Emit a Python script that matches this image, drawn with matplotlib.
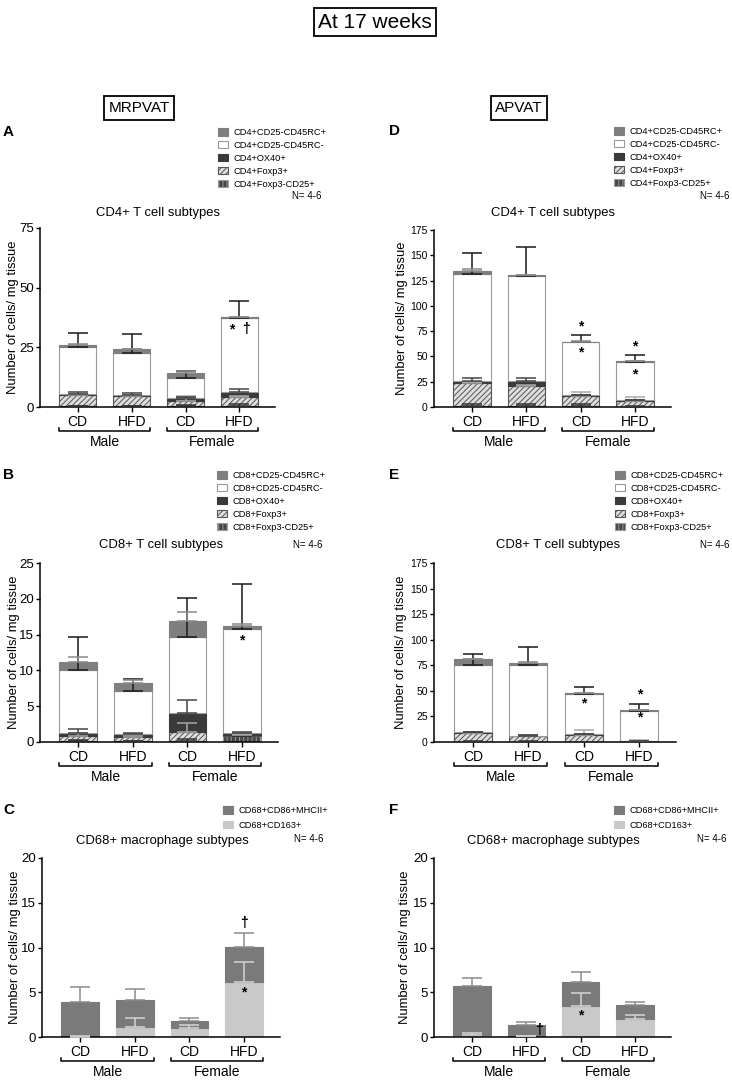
import matplotlib
matplotlib.use("Agg")
import matplotlib.pyplot as plt
from matplotlib.transforms import blended_transform_factory

plt.rcParams["font.family"] = ["Liberation Sans", "DejaVu Sans"]
plt.rcParams["hatch.linewidth"] = 0.7

# === DATA ===
GROUPS = ["CD", "HFD", "CD", "HFD"]
SEXES = ["Male", "Female"]

# T cell subsets, stacked bottom -> top
CD4_SUBSETS = ["CD4+Foxp3-CD25+", "CD4+Foxp3+", "CD4+OX40+", "CD4+CD25-CD45RC-", "CD4+CD25-CD45RC+"]
CD8_SUBSETS = ["CD8+Foxp3-CD25+", "CD8+Foxp3+", "CD8+OX40+", "CD8+CD25-CD45RC-", "CD8+CD25-CD45RC+"]
MAC_SUBSETS = ["CD68+CD163+", "CD68+CD86+MHCII+"]

# rows follow the subset order, columns follow GROUPS
MR_CD4_MEAN = [[0.3, 0.3, 0.3, 0.6],
               [4.7, 4.3, 2.2, 3.5],
               [0.5, 0.6, 1.1, 2.3],
               [19.8, 17.6, 8.7, 30.7],
               [0.7, 1.4, 1.8, 0.5]]
MR_CD4_SEM = [[0.2, 0.2, 0.4, 0.7],
              [0.5, 0.4, 2.2, 0.5],
              [0.6, 0.5, 0.5, 1.0],
              [5.8, 7.7, 2.9, 7.4],
              [0.3, 0.3, 0.8, 0.3]]

AP_CD4_MEAN = [[0.5, 0.5, 0.5, 0.3],
               [23.5, 20.5, 10.5, 5.9],
               [2.0, 5.0, 0.5, 0.5],
               [105.2, 103.5, 52.5, 38.1],
               [3.3, 1.0, 0.5, 0.5]]
AP_CD4_SEM = [[2.5, 2.5, 2.5, 0.3],
              [1.0, 1.0, 3.5, 3.4],
              [2.5, 3.0, 0.5, 0.3],
              [20.8, 28.5, 7.0, 6.6],
              [1.5, 0.5, 0.5, 0.3]]

MR_CD8_MEAN = [[0.2, 0.1, 0.2, 0.8],
               [0.64, 0.65, 1.2, 0.2],
               [0.46, 0.32, 2.6, 0.2],
               [8.7, 6.03, 10.6, 14.6],
               [1.2, 1.15, 2.3, 0.4]]
MR_CD8_SEM = [[0.1, 0.05, 0.17, 0.1],
              [0.4, 0.2, 1.2, 0.1],
              [0.5, 0.15, 1.8, 0.15],
              [4.6, 1.7, 5.5, 6.3],
              [0.7, 0.35, 1.3, 0.3]]

AP_CD8_MEAN = [[0.3, 0.3, 0.2, 0.1],
               [8.8, 5.6, 7.0, 0.5],
               [0.4, 0.3, 0.2, 0.1],
               [65.6, 68.9, 39.9, 29.7],
               [5.9, 2.6, 0.7, 0.6]]
AP_CD8_SEM = [[0.2, 0.2, 0.2, 0.1],
              [0.5, 0.7, 4.6, 1.0],
              [0.3, 0.4, 0.2, 0.1],
              [10.8, 17.9, 6.6, 7.1],
              [0.6, 0.4, 0.3, 0.3]]

MR_MAC_MEAN = [[0.05, 1.12, 1.0, 6.1],
               [3.85, 3.05, 0.75, 3.96]]
MR_MAC_SEM = [[0.05, 1.0, 0.38, 2.3],
              [1.65, 1.2, 0.35, 1.55]]

AP_MAC_MEAN = [[0.26, 0.1, 3.5, 2.0],
               [5.4, 1.28, 2.65, 1.61]]
AP_MAC_SEM = [[0.2, 0.05, 1.4, 0.5],
              [0.95, 0.3, 1.1, 0.3]]

# significance marks: (group index, x shift, y value, symbol)
MR_CD4_MARKS = [(3, -0.14, 32.5, "*"), (3, 0.12, 32.5, "\u2020")]
AP_CD4_MARKS = [(2, 0, 80, "*"), (2, 0, 54, "*"), (3, 0, 60, "*"), (3, 0, 32, "*")]
MR_CD8_MARKS = [(3, 0, 14.2, "*")]
AP_CD8_MARKS = [(2, 0, 38, "*"), (3, 0, 46, "*"), (3, 0, 23.5, "*")]
MR_MAC_MARKS = [(3, 0, 12.7, "\u2020"), (3, 0, 5.0, "*")]
AP_MAC_MARKS = [(1, 0.23, 0.8, "\u2020"), (2, 0, 2.4, "*")]

# === STYLE ===
W, H = 732, 1082
BAR_W = 0.686
T_STYLES = [
    dict(color="#464646", edgecolor="#9a9a9a", hatch="||||", err="#333333"),
    dict(color="#dedede", edgecolor="#555555", hatch="//////", err="#a8a8a8"),
    dict(color="#3a3a3a", edgecolor="#3a3a3a", hatch=None, err="#444444"),
    dict(color="white", edgecolor="#9a9a9a", hatch=None, err="#1a1a1a"),
    dict(color="#7f7f7f", edgecolor="#7f7f7f", hatch=None, err="#8a8a8a"),
]
MAC_STYLES = [
    dict(color="#c9c9c9", edgecolor="#c9c9c9", hatch=None, err="#d6d6d6"),
    dict(color="#7a7a7a", edgecolor="#7a7a7a", hatch=None, err="#8c8c8c"),
]

fig = plt.figure(figsize=(W / 100, H / 100), dpi=100)


def ftext(x, y, s, **kw):
    return fig.text(x / W, 1 - y / H, s, **kw)


def px_axes(left, top, right, bottom):
    return fig.add_axes([left / W, 1 - bottom / H, (right - left) / W, (bottom - top) / H])


def draw_panel(box, means, sems, subsets, styles, ymax, ystep, tick_fs, marks,
               title, title_x, title_y, letter, letter_x, leg_x, leg_y, n_x, n_y, ylab_x):
    left, top, right, bottom = box
    ax = px_axes(left, top, right, bottom)
    x = list(range(len(GROUPS)))
    base = [0.0] * len(GROUPS)
    containers = []
    for vals, errs, st in zip(means, sems, styles):
        bc = ax.bar(x, vals, BAR_W, bottom=base, color=st["color"], edgecolor=st["edgecolor"],
                    hatch=st["hatch"], linewidth=0.8, zorder=2)
        containers.append(bc)
        base = [b + v for b, v in zip(base, vals)]
        ax.errorbar(x, base, yerr=[[0] * len(errs), errs], fmt="none", ecolor=st["err"],
                    elinewidth=1.1, capsize=7, capthick=1.1, zorder=3)
    for gi, dx, yv, sym in marks:
        ax.text(gi + dx, yv, sym, ha="center", va="center", fontsize=10, fontweight="bold", zorder=4)

    ax.set_xlim(-0.7, 3.66)
    ax.set_ylim(0, ymax)
    ax.set_yticks(range(0, ymax + 1, ystep))
    ax.set_xticks(x)
    ax.set_xticklabels(GROUPS, fontsize=10)
    ax.tick_params(axis="y", labelsize=tick_fs, length=3, width=1, pad=1.5)
    ax.tick_params(axis="x", length=3.5, width=1, pad=2)
    for s in ["top", "right"]:
        ax.spines[s].set_visible(False)
    for s in ["left", "bottom"]:
        ax.spines[s].set_linewidth(1.1)
    ax.set_ylabel("Number of cells/ mg tissue", fontsize=9.4)
    ax.yaxis.set_label_coords((ylab_x - left) / (right - left), 0.5)

    # Male / Female brackets under the group labels
    hpx = bottom - top
    trans = blended_transform_factory(ax.transData, ax.transAxes)
    for i, sex in enumerate(SEXES):
        x0 = 2 * i - BAR_W / 2
        x1 = 2 * i + 1 + BAR_W / 2
        yb = -24 / hpx
        yt = -21 / hpx
        ax.plot([x0, x0, x1, x1], [yt, yb, yb, yt], color="black", lw=1.1,
                transform=trans, clip_on=False)
        ax.text((x0 + x1) / 2, -35 / hpx, sex, transform=trans, ha="center", va="center",
                fontsize=10)

    spacing = 0.42 if len(subsets) == 5 else 0.6
    ax.legend(containers[::-1], subsets[::-1], loc="upper left",
              bbox_to_anchor=(leg_x / W, 1 - leg_y / H), bbox_transform=fig.transFigure,
              frameon=False, fontsize=6.7, handlelength=1.07, handleheight=0.87,
              handletextpad=0.55, labelspacing=spacing, borderpad=0, borderaxespad=0)

    ftext(title_x, title_y, title, ha="center", va="center", fontsize=9.4)
    ftext(n_x, n_y, "N= 4-6", ha="left", va="center", fontsize=7)
    ftext(letter_x, leg_y + 4, letter, ha="left", va="center", fontsize=11, fontweight="bold")
    return ax


# === HEADERS ===
ftext(375, 22, "At 17 weeks", ha="center", va="center", fontsize=15,
      bbox=dict(boxstyle="square,pad=0.22", fc="white", ec="black", lw=1.3))
ftext(139, 108, "MRPVAT", ha="center", va="center", fontsize=11,
      bbox=dict(boxstyle="square,pad=0.3", fc="white", ec="black", lw=1.3))
ftext(519, 108, "APVAT", ha="center", va="center", fontsize=11,
      bbox=dict(boxstyle="square,pad=0.3", fc="white", ec="black", lw=1.3))

# === PANELS ===
draw_panel((40, 228, 275, 407), MR_CD4_MEAN, MR_CD4_SEM, CD4_SUBSETS, T_STYLES, 75, 25, 9.5,
           MR_CD4_MARKS, "CD4+ T cell subtypes", 158, 213, "A", 3, 218, 128, 292, 196, 19)
draw_panel((434, 230, 671, 407), AP_CD4_MEAN, AP_CD4_SEM, CD4_SUBSETS, T_STYLES, 175, 25, 7.5,
           AP_CD4_MARKS, "CD4+ T cell subtypes", 553, 213, "D", 389, 614, 127, 700, 196, 408)
draw_panel((40, 563, 278, 742), MR_CD8_MEAN, MR_CD8_SEM, CD8_SUBSETS, T_STYLES, 25, 5, 9.5,
           MR_CD8_MARKS, "CD8+ T cell subtypes", 161, 545, "B", 3, 217, 471, 293, 545, 20)
draw_panel((434, 563, 676, 742), AP_CD8_MEAN, AP_CD8_SEM, CD8_SUBSETS, T_STYLES, 175, 25, 7.5,
           AP_CD8_MARKS, "CD8+ T cell subtypes", 558, 545, "E", 389, 615, 471, 700, 545, 407)
draw_panel((42, 858, 280, 1037), MR_MAC_MEAN, MR_MAC_SEM, MAC_SUBSETS, MAC_STYLES, 20, 5, 9.5,
           MR_MAC_MARKS, "CD68+ macrophage subtypes", 162, 841, "C", 3, 223, 806, 294, 839, 21)
draw_panel((434, 858, 671, 1037), AP_MAC_MEAN, AP_MAC_SEM, MAC_SUBSETS, MAC_STYLES, 20, 5, 9.5,
           AP_MAC_MARKS, "CD68+ macrophage subtypes", 553, 841, "F", 389, 614, 806, 697, 839, 411)

fig.savefig("out.png", dpi=100)
